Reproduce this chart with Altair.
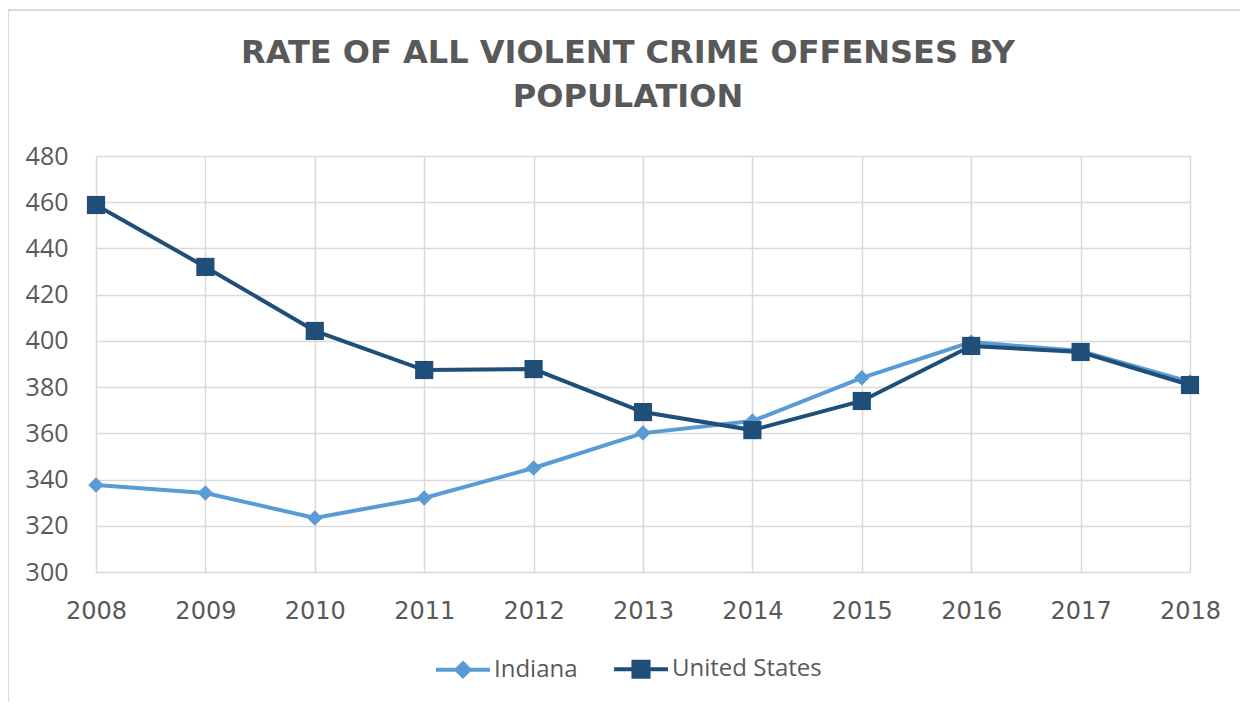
import altair as alt
import pandas as pd

years = [2008, 2009, 2010, 2011, 2012, 2013, 2014, 2015, 2016, 2017, 2018]
indiana = [337.6, 334.2, 323.4, 332.0, 345.0, 360.1, 365.3, 384.0, 399.5, 395.6, 382.2]
united_states = [458.8, 432.0, 404.3, 387.4, 387.8, 369.2, 361.4, 374.0, 397.8, 395.2, 380.9]
series_names = ["Indiana", "United States"]
series_colors = ["#5B9BD5", "#1F4E79"]
y_ticks = [300, 320, 340, 360, 380, 400, 420, 440, 460, 480]

df = pd.DataFrame(
    {"year": years * 2,
     "value": indiana + united_states,
     "series": ["Indiana"] * len(years) + ["United States"] * len(years)}
)

GRID = "#D9D9D9"
TXT = "#595959"
FONT = "Open Sans"

x_enc = alt.X("year:Q", scale=alt.Scale(domain=[2008, 2018], nice=False, zero=False),
              axis=alt.Axis(values=years, format="d", title=None, grid=True, gridColor=GRID,
                            gridWidth=1.5, domain=False, ticks=False, tickSize=0,
                            labelFlush=False, labelBound=False, labelOverlap=False,
                            labelPadding=27, labelFontSize=24, labelColor=TXT,
                            labelFont="DejaVu Sans"))
y_enc = alt.Y("value:Q", scale=alt.Scale(domain=[300, 480], nice=False, zero=False),
              axis=alt.Axis(values=y_ticks, title=None, grid=True, gridColor=GRID, gridWidth=1.5,
                            domain=False, ticks=False, tickSize=0, labelPadding=28,
                            labelFlush=False, labelBound=False,
                            labelFontSize=25, labelColor=TXT, labelFont=FONT))

base = alt.Chart(df)

# light frame around the whole chart (left and top edges visible in the reference)
frame = base.mark_rule(color=GRID, strokeWidth=2).encode(
    x=alt.value(-88), y=alt.value(-146), y2=alt.value(560)
) + base.mark_rule(color=GRID, strokeWidth=2).encode(
    x=alt.value(-88), x2=alt.value(1160), y=alt.value(-146)
)

layers = [frame]
shapes = ["diamond", "square"]
sizes = [240, 330]
for name, col, shp, sz in zip(series_names, series_colors, shapes, sizes):
    sub = base.transform_filter(alt.datum.series == name)
    layers.append(sub.mark_line(strokeWidth=4, color=col).encode(x=x_enc, y=y_enc))
    layers.append(sub.mark_point(filled=True, shape=shp, size=sz, color=col, opacity=1)
                  .encode(x=x_enc, y=y_enc))

diamond_path = "M-1,0L1,0M0,-0.24L0.24,0L0,0.24L-0.24,0Z"
square_path = "M-1,0L1,0M-0.28,-0.28L0.28,-0.28L0.28,0.28L-0.28,0.28Z"

legend_layer = base.transform_filter("false").mark_point(
    filled=True, size=2916, strokeWidth=4, opacity=1
).encode(
    shape=alt.Shape("series:N", scale=alt.Scale(domain=series_names, range=[diamond_path, square_path]),
                    legend=alt.Legend(title=None, orient="none", direction="horizontal",
                                      legendX=338, legendY=484,
                                      labelFontSize=24, labelColor=TXT, labelFont=FONT,
                                      symbolSize=2916, symbolStrokeWidth=4, labelOffset=2,
                                      columnPadding=28, symbolOpacity=1)),
    fill=alt.Fill("series:N", scale=alt.Scale(domain=series_names, range=series_colors)),
    stroke=alt.Stroke("series:N", scale=alt.Scale(domain=series_names, range=series_colors)),
)

chart = alt.layer(*layers, legend_layer).properties(
    width=1094, height=416,
    title=alt.TitleParams(["RATE OF ALL VIOLENT CRIME OFFENSES BY", "POPULATION"],
                          font="DejaVu Sans", fontSize=32, fontWeight="bold", color=TXT,
                          lineHeight=44, anchor="middle", frame="group", offset=-105, dx=-15),
    autosize=alt.AutoSizeParams(type="none"),
    padding={"left": 88, "top": 148, "right": 50, "bottom": 130},
).configure_view(stroke=None).configure(background="white")

chart.save("out.html", embed_options={"renderer": "svg", "actions": False})
